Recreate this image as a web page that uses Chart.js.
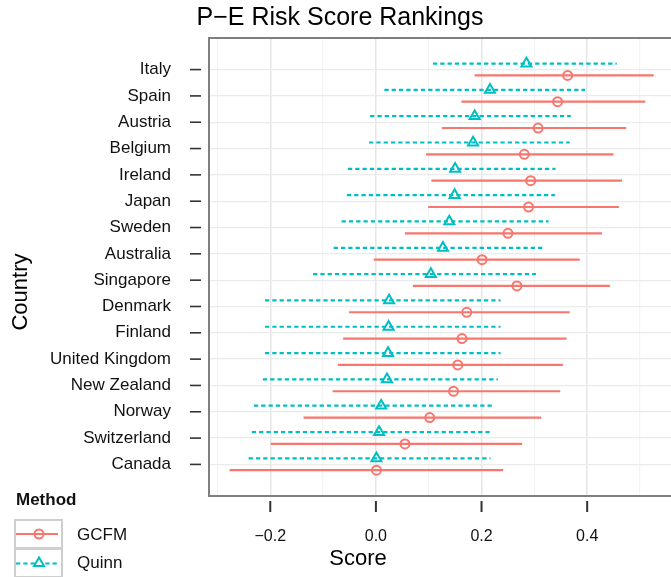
<!DOCTYPE html>
<html>
<head>
<meta charset="utf-8">
<script src="https://cdn.jsdelivr.net/npm/chart.js@4.4.1/dist/chart.umd.min.js"></script>
<style>
  html, body { margin: 0; padding: 0; background: #fff; overflow: hidden; }
  #wrap { position: relative; width: 671px; height: 577px; overflow: hidden; }
  #myChart { position: absolute; left: 0; top: 0; }
  #legend { font-family: 'Liberation Sans', Arial, sans-serif; color: #111; }
  #legend .title { position: absolute; left: 16px; top: 490px; font-size: 17px; font-weight: bold; line-height: 20px; }
  #legend .key { position: absolute; left: 14px; width: 45px; height: 26px; border: 2px solid #cfcfcf; background: #fff; }
  #legend .key svg { position: absolute; left: 0; top: 0; }
  #legend .lab { position: absolute; left: 77px; font-size: 17px; line-height: 20px; }
</style>
</head>
<body>
<div id="wrap">
  <canvas id="myChart" width="680" height="577"></canvas>
  <div id="legend">
    <div class="title">Method</div>
    <div class="key" style="top:519px">
      <svg width="45" height="26">
        <line x1="0" y1="13" x2="42" y2="13" stroke="#F8766D" stroke-width="2.2"/>
        <circle cx="23" cy="13" r="4.5" fill="none" stroke="#F8766D" stroke-width="2"/>
      </svg>
    </div>
    <div class="lab" style="top:525px">GCFM</div>
    <div class="key" style="top:548px">
      <svg width="45" height="26">
        <line x1="0" y1="13.5" x2="42" y2="13.5" stroke="#00BFC4" stroke-width="2.2" stroke-dasharray="4.3 3"/>
        <polygon points="23,7.5 28,16 18,16" fill="#fff" stroke="#00BFC4" stroke-width="2"/>
      </svg>
    </div>
    <div class="lab" style="top:553px">Quinn</div>
  </div>
</div>
<script>
// 国別データ（上から順）
var countries = ['Italy', 'Spain', 'Austria', 'Belgium', 'Ireland', 'Japan', 'Sweden', 'Australia',
  'Singapore', 'Denmark', 'Finland', 'United Kingdom', 'New Zealand', 'Norway', 'Switzerland', 'Canada'];

// GCFM: 点推定と区間
var gcfmScore = [0.363, 0.344, 0.307, 0.281, 0.293, 0.289, 0.250, 0.201, 0.267, 0.172, 0.163, 0.155, 0.147, 0.102, 0.055, 0.001];
var gcfmLow   = [0.187, 0.162, 0.125, 0.095, 0.105, 0.099, 0.055, -0.004, 0.070, -0.051, -0.062, -0.072, -0.082, -0.137, -0.199, -0.277];
var gcfmHigh  = [0.526, 0.510, 0.474, 0.450, 0.466, 0.460, 0.428, 0.386, 0.443, 0.367, 0.361, 0.354, 0.349, 0.313, 0.277, 0.241];

// Quinn: 点推定と区間
var quinnScore = [0.285, 0.216, 0.187, 0.184, 0.150, 0.149, 0.139, 0.127, 0.104, 0.025, 0.024, 0.023, 0.021, 0.010, 0.006, 0.001];
var quinnLow   = [0.108, 0.016, -0.011, -0.013, -0.053, -0.055, -0.065, -0.080, -0.119, -0.210, -0.210, -0.210, -0.214, -0.231, -0.235, -0.241];
var quinnHigh  = [0.456, 0.396, 0.369, 0.367, 0.340, 0.339, 0.327, 0.317, 0.303, 0.236, 0.236, 0.236, 0.231, 0.224, 0.221, 0.217];

// x軸の目盛り
var xTicks = [-0.2, 0.0, 0.2, 0.4];
var xGrid = [-0.3, -0.2, -0.1, 0.0, 0.1, 0.2, 0.3, 0.4, 0.5];

var FONT = "'Liberation Sans', Arial, sans-serif";
var RED = '#F8766D';
var TEAL = '#00BFC4';

function isMajor(v) {
  return xTicks.some(function (t) { return Math.abs(t - v) < 1e-9; });
}

function fmt(v) {
  var s = Math.abs(v).toFixed(1);
  return v < -1e-9 ? '\u2212' + s : s;
}

// 区間の線（null で区切る）
function rangeData(lo, hi, off) {
  var pts = [];
  for (var i = 0; i < countries.length; i++) {
    pts.push({x: lo[i], y: i + off}, {x: hi[i], y: i + off}, {x: null, y: null});
  }
  return pts;
}

function pointData(score, off) {
  return countries.map(function (c, i) { return {x: score[i], y: i + off}; });
}

var QUINN_OFF = -0.23;
var GCFM_OFF = 0.22;

// パネル枠・目盛り線・軸タイトル
var framePlugin = {
  id: 'frame',
  beforeDatasetsDraw: function (chart) {
    var a = chart.chartArea;
    var ctx = chart.ctx;
    ctx.save();
    ctx.strokeStyle = '#7f7f7f';
    ctx.lineWidth = 2;
    ctx.beginPath();
    ctx.moveTo(a.right + 10, a.top);
    ctx.lineTo(a.left, a.top);
    ctx.lineTo(a.left, a.bottom);
    ctx.lineTo(a.right + 10, a.bottom);
    ctx.stroke();
    ctx.restore();
  },
  afterDraw: function (chart) {
    var a = chart.chartArea;
    var ctx = chart.ctx;
    var xs = chart.scales.x, ys = chart.scales.y;
    ctx.save();
    ctx.strokeStyle = '#333';
    ctx.lineWidth = 1.6;
    countries.forEach(function (c, i) {
      var y = ys.getPixelForValue(i);
      ctx.beginPath();
      ctx.moveTo(a.left - 19, y);
      ctx.lineTo(a.left - 8, y);
      ctx.stroke();
    });
    ctx.lineWidth = 2;
    xTicks.forEach(function (v) {
      var x = xs.getPixelForValue(v);
      ctx.beginPath();
      ctx.moveTo(x, a.bottom + 5);
      ctx.lineTo(x, a.bottom + 16);
      ctx.stroke();
    });
    ctx.fillStyle = '#000';
    ctx.font = '22px ' + FONT;
    ctx.textAlign = 'center';
    ctx.textBaseline = 'alphabetic';
    ctx.fillText('Score', 358, 565);
    ctx.translate(27, 292);
    ctx.rotate(-Math.PI / 2);
    ctx.fillText('Country', 0, 0);
    ctx.restore();
  }
};

var ctx = document.getElementById('myChart').getContext('2d');
var myChart = new Chart(ctx, {
  type: 'scatter',
  data: {
    datasets: [
      {
        label: 'GCFM',
        data: pointData(gcfmScore, GCFM_OFF),
        pointStyle: 'circle',
        pointRadius: 4.5,
        borderColor: RED,
        backgroundColor: 'rgba(0,0,0,0)',
        borderWidth: 2,
        order: 0
      },
      {
        label: 'Quinn',
        data: pointData(quinnScore, QUINN_OFF),
        pointStyle: 'triangle',
        pointRadius: 5.8,
        borderColor: TEAL,
        backgroundColor: 'rgba(0,0,0,0)',
        borderWidth: 2,
        order: 0
      },
      {
        label: 'GCFM range',
        data: rangeData(gcfmLow, gcfmHigh, GCFM_OFF),
        showLine: true,
        spanGaps: false,
        pointRadius: 0,
        borderColor: RED,
        borderWidth: 2.2,
        order: 1
      },
      {
        label: 'Quinn range',
        data: rangeData(quinnLow, quinnHigh, QUINN_OFF),
        showLine: true,
        spanGaps: false,
        pointRadius: 0,
        borderColor: TEAL,
        borderWidth: 2.2,
        borderDash: [4.3, 3],
        order: 1
      }
    ]
  },
  options: {
    responsive: false,
    animation: false,
    devicePixelRatio: 1,
    layout: { padding: 0 },
    plugins: {
      legend: { display: false },
      tooltip: { enabled: false },
      title: {
        display: true,
        text: 'P\u2212E Risk Score Rankings',
        color: '#000',
        font: { family: FONT, size: 25, weight: 'normal' },
        padding: { top: 3, bottom: 5 }
      }
    },
    scales: {
      x: {
        type: 'linear',
        min: -0.316,
        max: 0.561,
        afterBuildTicks: function (s) {
          s.ticks = xGrid.map(function (v) { return {value: v}; });
        },
        afterFit: function (s) {
          s.height = 81;
          s.paddingLeft = 0;
          s.paddingRight = 0;
        },
        border: { display: false },
        grid: {
          drawTicks: false,
          color: function (c) { return isMajor(c.tick.value) ? '#e6e6e6' : '#f3f3f3'; },
          lineWidth: function (c) { return isMajor(c.tick.value) ? 1.5 : 1.2; }
        },
        ticks: {
          autoSkip: false,
          maxRotation: 0,
          padding: 31,
          color: '#111',
          font: { family: FONT, size: 16 },
          callback: function (v) { return isMajor(v) ? fmt(v) : ''; }
        }
      },
      y: {
        type: 'linear',
        reverse: true,
        min: -1.2,
        max: 16.2,
        afterBuildTicks: function (s) {
          s.ticks = countries.map(function (c, i) { return {value: i}; });
        },
        afterFit: function (s) {
          s.width = 209;
          s.paddingTop = 0;
          s.paddingBottom = 0;
        },
        border: { display: false },
        grid: { drawTicks: false, color: '#ebebeb', lineWidth: 1.3 },
        ticks: {
          autoSkip: false,
          padding: 38,
          color: '#111',
          font: { family: FONT, size: 17 },
          callback: function (v) { return countries[v]; }
        }
      }
    }
  },
  plugins: [framePlugin]
});
</script>
</body>
</html>
